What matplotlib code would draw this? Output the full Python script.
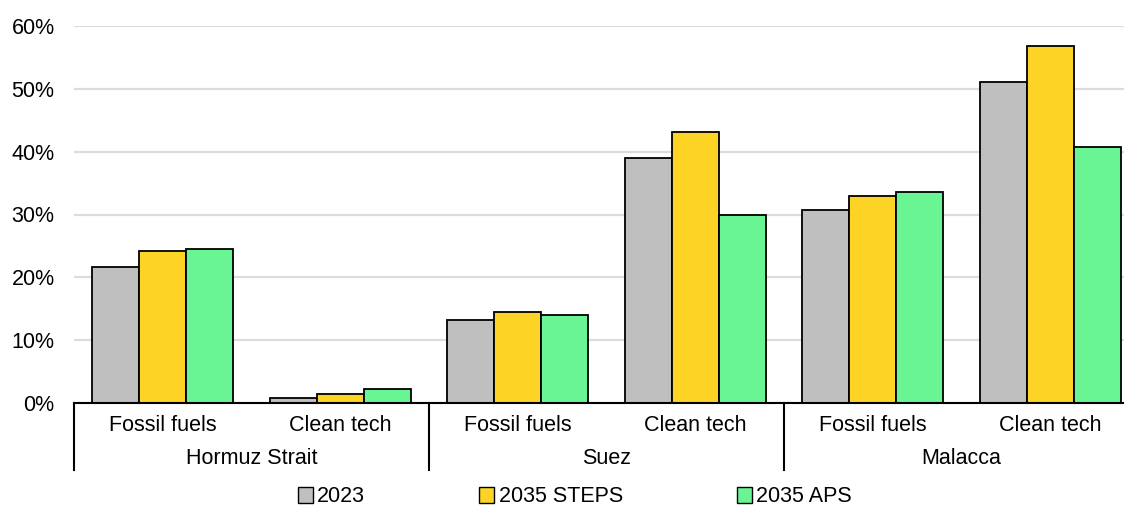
"""
Share of trade passing through chokepoints, 2023 vs 2035 scenarios
"""

import matplotlib

matplotlib.use('Agg')

import matplotlib.pyplot as plt
from matplotlib.patches import Patch
from matplotlib.transforms import blended_transform_factory

plt.rcParams['font.family'] = ['Liberation Sans', 'DejaVu Sans']

# Data (percent)
chokepoints = ["Hormuz Strait", "Suez", "Malacca"]
categories = ["Fossil fuels", "Clean tech"]
series_names = ["2023", "2035 STEPS", "2035 APS"]
series_colors = ["#BFBFBF", "#FDD425", "#6AF595"]

values_2023 = [21.6, 0.9, 13.3, 38.9, 30.7, 51.0]
values_steps = [24.2, 1.4, 14.5, 43.1, 32.9, 56.7]
values_aps = [24.5, 2.3, 14.1, 29.9, 33.6, 40.8]

y_ticks = [0, 10, 20, 30, 40, 50, 60]

all_series = [values_2023, values_steps, values_aps]

FONT_SIZE = 15.5

# Figure sized to 1124x509 px
fig = plt.figure(figsize=(11.24, 5.09), dpi=100)
# The plot area runs slightly past the right edge, as in the reference
ax = fig.add_axes([74 / 1124, 105.7 / 509, 1065 / 1124, 377.6 / 509])

bar_width = 0.265
x_pos = list(range(len(chokepoints) * len(categories)))
for i, (name, color, values) in enumerate(zip(series_names, series_colors, all_series)):
    offsets = [x + (i - 1) * bar_width for x in x_pos]
    ax.bar(offsets, values, bar_width, color=color, edgecolor='black', linewidth=1.3,
           label=name, zorder=3)

ax.set_xlim(-0.5, len(x_pos) - 0.5)
ax.set_ylim(0, 60)
ax.set_yticks(y_ticks)
ax.set_yticklabels([f"{t}%" for t in y_ticks])
ax.yaxis.grid(True, color='#DCDCDC', linewidth=1.6, zorder=0)
ax.set_axisbelow(True)

for side in ['left', 'right', 'top']:
    ax.spines[side].set_visible(False)
ax.spines['bottom'].set_linewidth(1.5)
ax.spines['bottom'].set_zorder(4)

ax.tick_params(axis='y', length=0, pad=14, labelsize=FONT_SIZE)
ax.set_xticks(x_pos)
ax.set_xticklabels(categories * len(chokepoints))
ax.tick_params(axis='x', length=0, pad=8.5, labelsize=FONT_SIZE)

# Group separators and group labels below the axis
trans = blended_transform_factory(ax.transData, ax.transAxes)
for sep in [-0.5, 1.5, 3.5, 5.5]:
    ax.plot([sep, sep], [0, -0.177], color='black', linewidth=1.5,
            transform=trans, clip_on=False)
for g, name in enumerate(chokepoints):
    ax.text(2 * g + 0.5, -0.145, name, transform=trans, ha='center', va='center',
            fontsize=FONT_SIZE)

# Legend at the bottom
handles = [Patch(facecolor=c, edgecolor='black', linewidth=1.0) for c in series_colors]
fig.legend(handles, series_names, loc='center', bbox_to_anchor=(575 / 1124, 1 - 497 / 509),
           ncol=3, frameon=False, fontsize=FONT_SIZE, handlelength=0.7, handleheight=0.7,
           handletextpad=0.2, columnspacing=5.3, borderaxespad=0)

fig.savefig('out.png', dpi=100)
plt.close(fig)
